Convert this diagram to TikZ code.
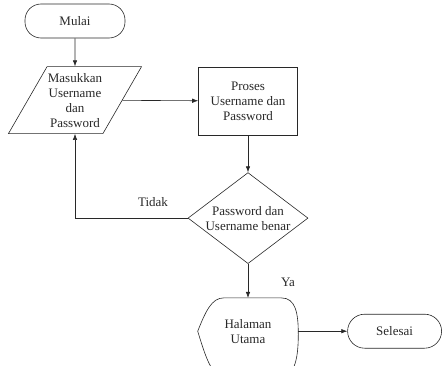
\documentclass[tikz,border=0pt]{standalone}
\usepackage{fontspec}
\setmainfont{Liberation Serif}
\usepackage{tikz}
\usetikzlibrary{arrows.meta, shapes.geometric, positioning}
\definecolor{flowline}{RGB}{40,40,40}

\begin{document}
\begin{tikzpicture}[
    x=1pt, y=1pt,
    font=\fontsize{13}{15}\selectfont,
    text=flowline,
    terminal/.style={draw=flowline, rectangle, rounded corners=16pt,
        minimum height=34pt, align=center},
    inputbox/.style={draw=flowline, trapezium, trapezium left angle=60,
        trapezium right angle=120, minimum width=100pt, minimum height=67pt,
        inner xsep=-4.5pt, inner ysep=0pt, align=center},
    procbox/.style={draw=flowline, rectangle, minimum width=99pt,
        minimum height=68pt, align=center},
    decision/.style={draw=flowline, diamond, aspect=1.32, inner xsep=-4pt,
        inner ysep=0pt, minimum width=120pt, minimum height=91pt, align=center},
    arr/.style={-{Latex[length=6pt, width=4.5pt]}, flowline, line width=0.6pt},
    line width=0.6pt
  ]
  \useasboundingbox (0,0) rectangle (442,365);
  \node[terminal, minimum width=100pt] (mulai) at (75,344) {Mulai};
  \node[inputbox, below=28pt of mulai] (input) {Masukkan\\Username\\dan\\Password};
  \node[procbox] (proses) at (248,264) {Proses\\Username dan\\Password};
  \node[decision, below=37pt of proses] (cek) {Password dan\\Username benar};
  \node[minimum width=100pt, minimum height=66pt, below=34pt of cek, align=center]
  (utama) {Halaman\\Utama};
  \node[terminal, minimum width=94pt, rounded corners=17pt, right=49pt of utama]
  (selesai) {Selesai};
  % bentuk display, bagian bawah terpotong
  \draw[flowline] (utama.west)
  .. controls +(8,20) and +(-12,0) .. ([xshift=26pt]utama.north west)
  -- ([xshift=-17pt]utama.north east)
  .. controls +(14,0) and +(0,22) .. ([yshift=-3pt]utama.east)
  .. controls +(0,-22) and +(14,0) .. ([xshift=-17pt, yshift=-12pt]utama.south east)
  -- ([xshift=26pt, yshift=-12pt]utama.south west)
  .. controls +(-12,0) and +(8,-26) .. cycle;
  \draw[arr] (mulai) -- (input);
  \draw[arr] (input) -- (proses);
  \draw[arr] (proses) -- (cek);
  \draw[arr] (cek.west) -| (input);
  \draw[arr] (cek) -- (utama);
  \draw[arr] (utama) -- (selesai);
  \node (tidak) at (153,163) {Tidak};
  \node (ya) at (288,83) {Ya};
\end{tikzpicture}
\end{document}
